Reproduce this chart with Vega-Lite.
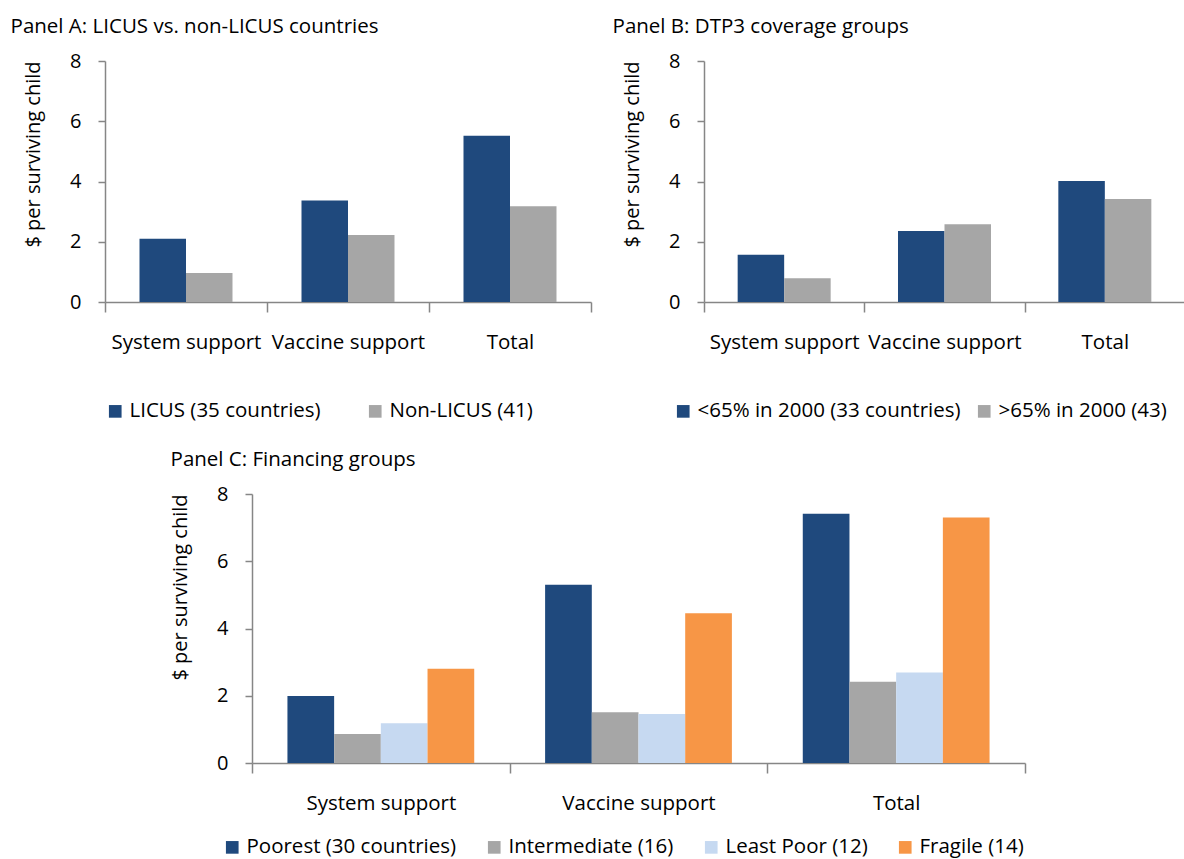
{
  "$schema": "https://vega.github.io/schema/vega-lite/v6.json",
  "background": "white",
  "padding": {"left": 10, "top": 16, "right": 0, "bottom": 0},
  "config": {
    "font": "Open Sans",
    "view": {"stroke": null},
    "axis": {
      "grid": false,
      "domainColor": "#868686",
      "tickColor": "#868686",
      "domainWidth": 1.5,
      "tickWidth": 1.5,
      "labelColor": "#000000",
      "titleColor": "#000000",
      "labelFont": "Open Sans",
      "titleFont": "Open Sans",
      "labelFontSize": 20,
      "titleFontSize": 20,
      "titleFontWeight": "normal"
    },
    "axisX": {"labelFontSize": 20.5},
    "legend": {
      "orient": "none",
      "direction": "horizontal",
      "title": null,
      "symbolType": "square",
      "symbolSize": 160,
      "symbolStrokeWidth": 0,
      "symbolOpacity": 1,
      "labelFont": "Open Sans",
      "labelFontSize": 20.5,
      "labelColor": "#000000",
      "labelOffset": 4,
      "labelLimit": 400
    },
    "title": {
      "font": "Open Sans",
      "fontSize": 20.5,
      "fontWeight": "normal",
      "color": "#000000",
      "anchor": "start",
      "frame": "bounds"
    }
  },
  "datasets": {
    "panelA": [
      {"part": "System support", "group": "LICUS (35 countries)", "value": 2.10},
      {"part": "System support", "group": "Non-LICUS (41)", "value": 0.96},
      {"part": "Vaccine support", "group": "LICUS (35 countries)", "value": 3.37},
      {"part": "Vaccine support", "group": "Non-LICUS (41)", "value": 2.22},
      {"part": "Total", "group": "LICUS (35 countries)", "value": 5.52},
      {"part": "Total", "group": "Non-LICUS (41)", "value": 3.18}
    ],
    "panelB": [
      {"part": "System support", "group": "<65% in 2000 (33 countries)", "value": 1.57},
      {"part": "System support", "group": ">65% in 2000 (43)", "value": 0.79},
      {"part": "Vaccine support", "group": "<65% in 2000 (33 countries)", "value": 2.36},
      {"part": "Vaccine support", "group": ">65% in 2000 (43)", "value": 2.58},
      {"part": "Total", "group": "<65% in 2000 (33 countries)", "value": 4.02},
      {"part": "Total", "group": ">65% in 2000 (43)", "value": 3.42}
    ],
    "panelC": [
      {"part": "System support", "group": "Poorest (30 countries)", "value": 1.99},
      {"part": "System support", "group": "Intermediate (16)", "value": 0.86},
      {"part": "System support", "group": "Least Poor (12)", "value": 1.18},
      {"part": "System support", "group": "Fragile (14)", "value": 2.80},
      {"part": "Vaccine support", "group": "Poorest (30 countries)", "value": 5.30},
      {"part": "Vaccine support", "group": "Intermediate (16)", "value": 1.51},
      {"part": "Vaccine support", "group": "Least Poor (12)", "value": 1.46},
      {"part": "Vaccine support", "group": "Fragile (14)", "value": 4.45},
      {"part": "Total", "group": "Poorest (30 countries)", "value": 7.41},
      {"part": "Total", "group": "Intermediate (16)", "value": 2.42},
      {"part": "Total", "group": "Least Poor (12)", "value": 2.69},
      {"part": "Total", "group": "Fragile (14)", "value": 7.30}
    ]
  },
  "spacing": 27,
  "resolve": {
    "scale": {"x": "independent", "y": "independent", "xOffset": "independent", "color": "independent"},
    "legend": {"color": "independent"}
  },
  "vconcat": [
    {
      "bounds": "flush",
      "spacing": 113,
      "resolve": {
        "scale": {"x": "independent", "y": "independent", "xOffset": "independent", "color": "independent"},
        "legend": {"color": "independent"}
      },
      "hconcat": [
        {
          "width": 486,
          "height": 241,
          "data": {"name": "panelA"},
          "title": {"text": "Panel A: LICUS vs. non-LICUS countries", "dx": -13, "offset": 14},
          "mark": {"type": "bar"},
          "encoding": {
            "x": {
              "field": "part", "type": "nominal",
              "sort": ["System support", "Vaccine support", "Total"],
              "scale": {"paddingInner": 0, "paddingOuter": 0},
              "axis": {"title": null, "labelAngle": 0, "tickBand": "extent", "tickSize": 10, "labelPadding": 20}
            },
            "xOffset": {
              "field": "group", "type": "nominal",
              "sort": ["LICUS (35 countries)", "Non-LICUS (41)"],
              "scale": {"paddingInner": 0, "paddingOuter": 0.742}
            },
            "y": {
              "field": "value", "type": "quantitative",
              "scale": {"domain": [0, 8], "nice": false},
              "axis": {"title": "$ per surviving child", "values": [0, 2, 4, 6, 8], "tickSize": 7, "labelPadding": 17, "titlePadding": 26, "titleAnchor": "end"}
            },
            "color": {
              "field": "group", "type": "nominal",
              "scale": {"domain": ["LICUS (35 countries)", "Non-LICUS (41)"], "range": ["#1F497D", "#A6A6A6"]},
              "legend": {"legendX": 0, "legendY": 340, "columnPadding": 44}
            }
          }
        },
        {
          "width": 481,
          "height": 241,
          "data": {"name": "panelB"},
          "title": {"text": "Panel B: DTP3 coverage groups", "dx": -10, "offset": 14},
          "mark": {"type": "bar"},
          "encoding": {
            "x": {
              "field": "part", "type": "nominal",
              "sort": ["System support", "Vaccine support", "Total"],
              "scale": {"paddingInner": 0, "paddingOuter": 0},
              "axis": {"title": null, "labelAngle": 0, "tickBand": "extent", "tickSize": 10, "labelPadding": 20}
            },
            "xOffset": {
              "field": "group", "type": "nominal",
              "sort": ["<65% in 2000 (33 countries)", ">65% in 2000 (43)"],
              "scale": {"paddingInner": 0, "paddingOuter": 0.724}
            },
            "y": {
              "field": "value", "type": "quantitative",
              "scale": {"domain": [0, 8], "nice": false},
              "axis": {"title": "$ per surviving child", "values": [0, 2, 4, 6, 8], "tickSize": 7, "labelPadding": 17, "titlePadding": 26, "titleAnchor": "end"}
            },
            "color": {
              "field": "group", "type": "nominal",
              "scale": {"domain": ["<65% in 2000 (33 countries)", ">65% in 2000 (43)"], "range": ["#1F497D", "#A6A6A6"]},
              "legend": {"legendX": -31, "legendY": 340, "columnPadding": 13}
            }
          }
        }
      ]
    },
    {
      "bounds": "flush",
      "spacing": 0,
      "resolve": {
        "scale": {"x": "independent", "y": "independent", "xOffset": "independent", "color": "independent"},
        "legend": {"color": "independent"}
      },
      "hconcat": [
        {
          "width": 147,
          "height": 269,
          "data": {"values": []},
          "mark": {"type": "point", "opacity": 0}
        },
        {
          "width": 773,
          "height": 269,
          "data": {"name": "panelC"},
          "title": {"text": "Panel C: Financing groups", "dx": 0, "offset": 14},
          "mark": {"type": "bar"},
          "encoding": {
            "x": {
              "field": "part", "type": "nominal",
              "sort": ["System support", "Vaccine support", "Total"],
              "scale": {"paddingInner": 0, "paddingOuter": 0},
              "axis": {"title": null, "labelAngle": 0, "tickBand": "extent", "tickSize": 10, "labelPadding": 20}
            },
            "xOffset": {
              "field": "group", "type": "nominal",
              "sort": ["Poorest (30 countries)", "Intermediate (16)", "Least Poor (12)", "Fragile (14)"],
              "scale": {"paddingInner": 0, "paddingOuter": 0.759}
            },
            "y": {
              "field": "value", "type": "quantitative",
              "scale": {"domain": [0, 8], "nice": false},
              "axis": {"title": "$ per surviving child", "values": [0, 2, 4, 6, 8], "tickSize": 7, "labelPadding": 17, "titlePadding": 26, "titleAnchor": "end"}
            },
            "color": {
              "field": "group", "type": "nominal",
              "scale": {"domain": ["Poorest (30 countries)", "Intermediate (16)", "Least Poor (12)", "Fragile (14)"], "range": ["#1F497D", "#A6A6A6", "#C6D9F1", "#F79646"]},
              "legend": {"legendX": -30, "legendY": 343, "columnPadding": 27}
            }
          }
        }
      ]
    }
  ]
}
